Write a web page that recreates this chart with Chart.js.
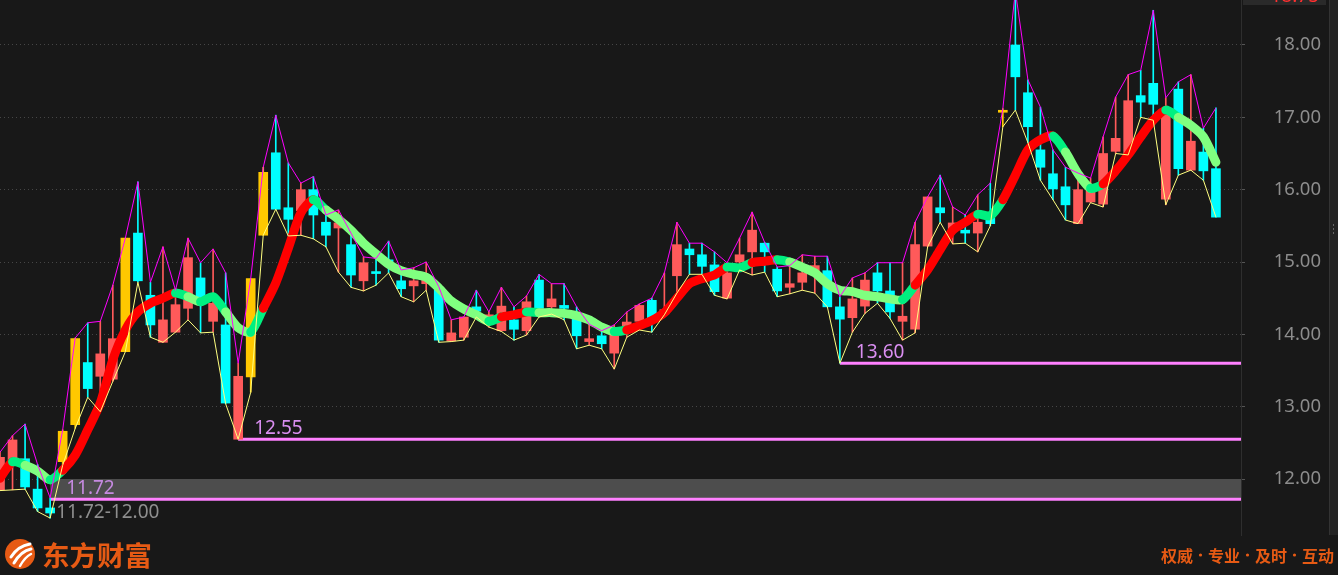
<!DOCTYPE html>
<html><head><meta charset="utf-8">
<script src="https://cdn.jsdelivr.net/npm/chart.js@4.4.1/dist/chart.umd.min.js"></script>
<style>html,body{margin:0;padding:0;background:#181818;overflow:hidden}#wrap{position:relative;width:1338px;height:575px}</style>
</head><body><div id="wrap"><canvas id="c"></canvas></div>
<script>
// ---- data ----
const opens  = [11.85,12.26,12.28,11.86,11.60,12.24,12.75,13.61,13.42,13.38,13.76,15.40,14.54,13.89,14.03,14.36,14.78,14.18,14.13,12.55,
                13.41,15.37,16.51,15.75,15.71,16.00,15.55,15.47,15.24,14.74,14.86,15.03,14.74,14.67,14.70,14.65,13.91,13.96,14.38,14.20,
                14.05,14.20,14.05,14.75,14.38,14.40,14.23,13.90,13.98,13.74,14.12,14.18,14.47,14.28,14.81,15.18,15.10,14.96,14.50,15.00,
                15.14,15.26,14.90,14.65,14.72,14.85,14.88,14.38,14.23,14.39,14.85,14.60,14.18,14.07,15.22,15.75,15.44,15.44,15.40,15.62,
                17.07,18.00,17.34,16.55,16.22,16.04,15.53,15.83,15.80,16.53,16.48,17.30,17.47,15.87,17.39,16.27,16.52,16.29];
const highs  = [12.37,12.60,12.76,12.20,11.74,12.68,13.95,14.16,14.18,14.68,15.33,16.11,14.72,15.21,14.61,15.33,14.99,15.18,14.85,13.60,
                14.77,16.31,17.03,16.37,16.09,16.18,15.65,15.72,15.40,15.07,15.05,15.29,14.89,14.92,15.00,14.66,14.20,14.24,14.61,14.31,
                14.65,14.38,14.53,14.83,14.70,14.70,14.38,14.14,14.05,14.13,14.31,14.42,14.50,14.85,15.55,15.26,15.26,15.14,14.99,15.33,
                15.69,15.27,14.93,14.95,15.10,15.08,15.08,14.52,14.78,14.85,14.99,14.99,14.99,15.55,15.90,16.20,15.76,15.65,15.93,16.09,
                17.12,18.75,17.52,17.14,16.55,16.31,16.23,16.16,16.73,17.28,17.59,17.65,18.48,17.27,17.49,17.59,16.85,17.13];
const lows   = [11.84,11.85,11.86,11.55,11.46,12.19,12.70,13.13,12.93,13.35,13.76,14.72,13.96,13.89,14.03,14.20,14.02,14.03,13.04,12.55,
                13.20,15.37,15.73,15.36,15.37,15.32,15.21,14.86,14.65,14.60,14.68,14.85,14.52,14.45,14.61,13.89,13.90,13.92,14.24,14.10,
                14.04,13.92,13.99,14.24,14.28,14.20,13.80,13.85,13.80,13.52,13.96,14.06,14.03,14.27,14.57,14.83,14.83,14.54,14.49,14.89,
                14.82,14.86,14.52,14.56,14.61,14.57,14.38,13.60,14.03,14.29,14.43,14.22,13.92,14.02,15.21,15.55,15.25,15.26,15.14,15.50,
                16.87,17.10,16.65,16.13,15.86,15.58,15.53,15.82,15.76,16.50,16.48,17.00,16.96,15.79,16.20,16.27,16.13,15.62];
const closes = [12.30,12.54,11.89,11.60,11.53,12.66,13.94,13.25,13.73,13.94,15.33,14.74,14.13,14.20,14.41,15.06,14.52,14.43,13.05,13.42,
                14.77,16.24,15.73,15.59,16.00,15.65,15.37,15.54,14.82,14.99,14.84,14.96,14.63,14.74,14.75,13.92,14.02,14.24,14.32,14.27,
                14.39,14.07,14.45,14.36,14.49,14.36,13.98,13.94,13.87,14.00,14.17,14.40,14.21,14.34,15.24,15.10,14.94,14.59,14.85,15.10,
                15.44,15.14,14.60,14.70,14.85,14.95,14.38,14.21,14.49,14.75,14.60,14.31,14.25,15.24,15.90,15.68,15.54,15.40,15.55,15.53,
                17.08,17.56,16.87,16.31,16.01,15.79,16.00,16.02,16.50,16.71,17.23,17.21,17.18,17.10,16.29,16.67,16.26,15.62];
const trendMA = [12.01,12.24,12.19,12.11,11.99,12.12,12.33,12.68,13.05,13.65,14.06,14.31,14.43,14.50,14.57,14.52,14.45,14.52,14.31,14.09,
                14.03,14.36,14.71,15.19,15.68,15.86,15.72,15.59,15.44,15.26,15.11,14.97,14.88,14.83,14.79,14.64,14.46,14.35,14.27,14.18,
                14.24,14.27,14.31,14.30,14.30,14.29,14.26,14.20,14.10,14.04,14.06,14.12,14.19,14.30,14.50,14.70,14.77,14.82,14.93,14.92,
                14.99,15.01,15.03,15.00,14.93,14.85,14.70,14.61,14.59,14.54,14.52,14.49,14.48,14.68,14.89,15.17,15.44,15.55,15.66,15.64,
                15.86,16.20,16.55,16.69,16.74,16.52,16.22,16.02,16.08,16.26,16.48,16.73,16.96,17.10,17.00,16.89,16.73,16.38];
const slotCount = 100;                       // trading-day slots on the x axis
const dayIndex = Array.from({length: slotCount}, (_, i) => i);
const levelValues = [13.60, 12.55, 11.72];
const levelStart  = [67, 19, 4];
const zoneLow = 11.72, zoneHigh = 12.00, zoneStart = 4;
const yTicks = [12, 13, 14, 15, 16, 17, 18];
const topPriceTag = '18.75';
const sloganWords = ['权威', '专业', '及时', '互动'];

// ---- styles ----
const BG = '#181818';
const UP = '#ff5a5a', DOWN = '#00ffff', LIMIT = '#ffc800';
const MA_UP = '#ff0000', MA_DN = '#80ff80', MA_TURN = '#00f080';
const FONT = '"Noto Sans", "Open Sans", "Liberation Sans", sans-serif';
const ORANGE = '#e65a14';

function candleColor(i) {
  if (i > 0 && closes[i] >= closes[i - 1] * 1.095) return LIMIT;
  return closes[i] >= opens[i] ? UP : DOWN;
}
const wickData = highs.map((h, i) => [lows[i], h]);
const bodyData = opens.map((o, i) => [o, closes[i]]);
const levelSets = levelValues.map((v, k) => ({
  type: 'line', data: dayIndex.map(i => i >= levelStart[k] ? v : null),
  borderColor: '#ff80ff', borderWidth: 3, pointRadius: 0, order: 15, spanGaps: false
}));

const deco = {
  id: 'deco',
  beforeDraw(chart) {
    const c = chart.ctx;
    c.save(); c.fillStyle = BG; c.fillRect(0, 0, chart.width, chart.height); c.restore();
  },
  afterDraw(chart) {
    const c = chart.ctx, xs = chart.scales.x, ys = chart.scales.y, a = chart.chartArea;
    c.save();
    c.font = '19px ' + FONT;
    c.textAlign = 'left';
    c.textBaseline = 'alphabetic';
    // level labels
    levelValues.forEach((v, k) => {
      const x = xs.getPixelForValue(levelStart[k]) + 16;
      const y = ys.getPixelForValue(v) - 5;
      c.fillStyle = k === 2 ? '#c58ae0' : '#d98ef0';
      c.fillText(v.toFixed(2), x, y);
    });
    c.fillStyle = '#8e8e8e';
    c.fillText(zoneLow.toFixed(2) + '-' + zoneHigh.toFixed(2), xs.getPixelForValue(zoneStart) + 6, ys.getPixelForValue(zoneLow) + 19);
    // right strip
    c.fillStyle = '#242424'; c.fillRect(1329, 0, 9, a.bottom);
    c.fillStyle = '#333'; c.fillRect(1329, 0, 1, a.bottom);
    c.fillStyle = '#666';
    [224, 228, 232].forEach(y => c.fillRect(1333, y, 1, 2));
    // top price tag
    c.fillStyle = '#2a2a2a';
    c.fillRect(a.right + 2, -10, 83, 15);
    c.fillStyle = '#ff3030'; c.textAlign = 'right';
    c.fillText(topPriceTag, a.right + 78, 2);
    // bottom logo
    c.fillStyle = ORANGE;
    c.beginPath(); c.arc(20, 554, 15, 0, Math.PI * 2); c.fill();
    c.strokeStyle = '#fff'; c.lineCap = 'round';
    c.lineWidth = 3;
    c.beginPath(); c.moveTo(11, 557); c.quadraticCurveTo(18, 546, 30, 544); c.stroke();
    c.beginPath(); c.moveTo(14, 563); c.quadraticCurveTo(21, 551, 31, 549); c.stroke();
    c.lineWidth = 2.5;
    c.beginPath(); c.moveTo(20, 566); c.quadraticCurveTo(25, 557, 31, 554); c.stroke();
    c.textAlign = 'left';
    c.font = 'bold 27.5px "Noto Sans CJK SC", sans-serif';
    c.fillText('东方财富', 42, 566);
    // slogan: words with small separator dots
    c.font = 'bold 16px "Noto Sans CJK SC", sans-serif';
    let x = 1161;
    sloganWords.forEach((w, k) => {
      c.fillText(w, x, 562);
      const wd = c.measureText(w).width;
      if (k < sloganWords.length - 1) {
        c.beginPath(); c.arc(x + wd + 7.5, 555, 1.6, 0, Math.PI * 2); c.fill();
      }
      x += wd + 15;
    });
    c.restore();
  }
};

new Chart(document.getElementById('c'), {
  data: {
    labels: dayIndex,
    datasets: [
      { type: 'line', data: dayIndex.map(i => i >= zoneStart ? zoneHigh : null), borderWidth: 0, pointRadius: 0,
        fill: '+1', backgroundColor: '#4d4d4d', order: 20 },
      { type: 'line', data: dayIndex.map(i => i >= zoneStart ? zoneLow : null), borderWidth: 0, pointRadius: 0,
        fill: false, order: 19 },
      ...levelSets,
      { type: 'bar', data: wickData, barThickness: 1, grouped: false, order: 12,
        backgroundColor: ctx => candleColor(ctx.dataIndex) },
      { type: 'bar', data: bodyData, barThickness: 9, grouped: false, order: 11, minBarLength: 2,
        backgroundColor: ctx => candleColor(ctx.dataIndex) },
      { type: 'line', data: trendMA, borderWidth: 9, pointRadius: 0, order: 3, tension: 0.25,
        borderCapStyle: 'round', borderJoinStyle: 'round',
        segment: { borderColor: s => {
          const i = s.p0DataIndex;
          const d = trendMA[i + 1] - trendMA[i];
          const p = i > 0 ? trendMA[i] - trendMA[i - 1] : d;
          const up = d > 0, pu = p > 0;
          if (up !== pu) return MA_TURN;
          return up ? MA_UP : MA_DN;
        } } },
      { type: 'line', data: highs, borderColor: '#ff00ff', borderWidth: 1, pointRadius: 0, order: 1, tension: 0 },
      { type: 'line', data: lows, borderColor: '#ffff80', borderWidth: 1, pointRadius: 0, order: 1, tension: 0 }
    ]
  },
  options: {
    responsive: true, maintainAspectRatio: false, animation: false, devicePixelRatio: 1,
    layout: { padding: { left: 0, right: 17, top: 0, bottom: 40 } },
    plugins: { legend: { display: false }, tooltip: { enabled: false } },
    scales: {
      x: { type: 'category', offset: false, display: false },
      y: { position: 'right', min: 11.226, max: 18.622,
        afterFit: s => { s.width = 80; s.paddingTop = 0; s.paddingBottom = 0; },
        afterBuildTicks: s => { s.ticks = yTicks.map(v => ({ value: v })); },
        ticks: { color: '#8c8c8c', font: { size: 18.5, family: FONT }, crossAlign: 'far', padding: 0,
                 callback: v => Number(v).toFixed(2) },
        grid: { color: '#464646', lineWidth: 1, drawTicks: true, tickLength: 4, tickColor: '#555', tickBorderDash: [] },
        border: { display: true, color: '#2e2e2e', dash: [1, 3] } }
    }
  },
  plugins: [deco]
});
</script></body></html>
